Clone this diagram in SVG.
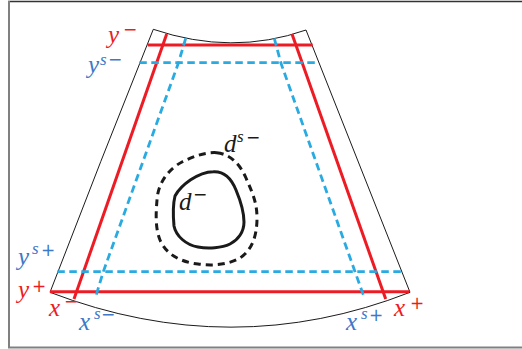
<svg xmlns="http://www.w3.org/2000/svg" width="522" height="349" viewBox="0 0 522 349">
<style>
.frame{fill:none;stroke:#000;stroke-width:0.9}
.red{fill:none;stroke:#ED1C24;stroke-width:3}
.blue{fill:none;stroke:#29ABE2;stroke-width:2.8;stroke-dasharray:7.5,4.5}
.blob{fill:none;stroke:#1a1a1a;stroke-width:3}
.blobd{fill:none;stroke:#1a1a1a;stroke-width:3;stroke-dasharray:7,5}
.lbl{font-family:"Liberation Serif",serif;font-style:italic;font-size:25px}
.s{font-family:"Liberation Serif",serif;font-style:italic;font-size:17px}
.sup{font-family:"DejaVu Sans","Liberation Sans",sans-serif;font-size:17px}
.r{fill:#ED1C24}
.b{fill:#3D78C9}
.k{fill:#1a1a1a}
</style>
<rect x="0" y="0" width="522" height="349" fill="#fff"/>
<line x1="8" y1="1.5" x2="522" y2="1.5" stroke="#333" stroke-width="1.5"/>
<line x1="9" y1="1" x2="9" y2="348" stroke="#808080" stroke-width="2"/>
<line x1="8" y1="347.5" x2="522" y2="347.5" stroke="#808080" stroke-width="2"/>

<g id="region">
<path class="frame" d="M153.3,29.3 Q 232,56 306,30 L 410,292.3 Q 232,362 50,292.3 Q 100,162 153.3,29.3 Z"/>
</g>

<g id="connectors">
<line class="red" x1="147.7" y1="45" x2="312.7" y2="45"/>
<line class="red" x1="50" y1="291.7" x2="409.3" y2="291.7"/>
<line class="red" x1="166.7" y1="34" x2="74" y2="299"/>
<line class="red" x1="292" y1="34" x2="385.7" y2="299"/>
<line class="blue" x1="139.3" y1="62.7" x2="319.3" y2="62.7"/>
<line class="blue" x1="57.3" y1="271.7" x2="401.7" y2="271.7"/>
<polyline class="blue" points="185.7,38.3 178.3,63.3 103.3,271.7 95.7,296.7"/>
<polyline class="blue" points="274.3,38.3 281,63.3 355,271.7 364,296.7"/>
</g>

<g id="d-minus">
<path class="blob" d="M213.3,171.7 C226,171 232,180 236,190 C241,202 244,212 244,222 C244,232 238,240 230,244 C222,248 208,249 198,247 C186,245 176,236 174,226 C173,215 173,204 175,196 C181,185 198,172 213.3,171.7 Z"/>
</g>
<g id="d-s-minus">
<path class="blobd" d="M216.7,152.7 C230,154 240,164 246,178 C252,192 257,202 257,218 C257,236 252,250 240,258 C228,265 212,266 198,264 C180,262 166,254 160,240 C155,228 156,212 157,200 C158,182 170,168 182,162 C194,156 206,152 216.7,152.7 Z"/>
</g>

<g id="labels">
<text class="lbl r" x="108" y="43">y</text><text class="sup r" x="123" y="34.5">−</text>
<text class="lbl b" x="88" y="72.5">y</text><text class="s b" x="100" y="65">s</text><text class="sup b" x="108" y="65">−</text>
<text class="lbl b" x="18" y="264.5">y</text><text class="s b" x="32" y="254">s</text><text class="sup b" x="41" y="255.5">+</text>
<text class="lbl r" x="18" y="298">y</text><text class="sup r" x="32" y="291.5">+</text>
<text class="lbl r" x="49" y="316">x</text><text class="sup r" x="64" y="307">−</text>
<text class="lbl b" x="79" y="330">x</text><text class="s b" x="94" y="319">s</text><text class="sup b" x="101" y="320">−</text>
<text class="lbl b" x="346" y="330">x</text><text class="s b" x="361" y="319">s</text><text class="sup b" x="369" y="320.5">+</text>
<text class="lbl r" x="394" y="316">x</text><text class="sup r" x="410" y="308.5">+</text>
<text class="lbl k" x="224" y="152">d</text><text class="s k" x="237" y="142">s</text><text class="sup k" x="246" y="143">−</text>
<text class="lbl k" x="179" y="210">d</text><text class="sup k" x="193" y="200">−</text>
</g>
</svg>
